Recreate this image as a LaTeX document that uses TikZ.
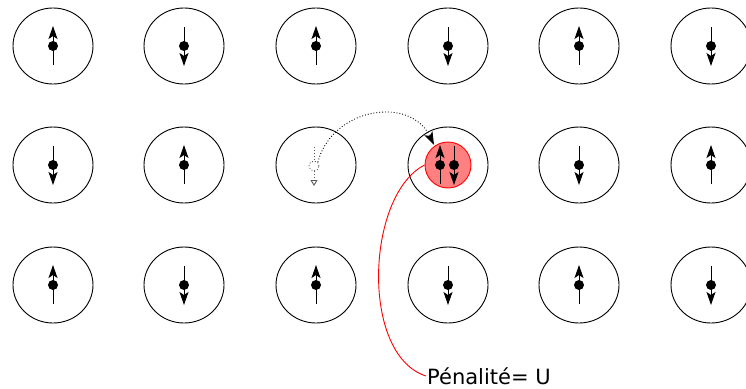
\documentclass[tikz,border=0pt]{standalone}
\usepackage{fontspec}
\setmainfont{DejaVu Sans}
\usetikzlibrary{arrows.meta,shapes.geometric}
\tikzset{
  site/.style={draw,ellipse,minimum width=80pt,minimum height=76pt,line width=0.9pt,inner sep=0pt},
  spinarr/.style={line width=1pt,-{Stealth[length=13pt,width=9pt,inset=3pt]}},
  hop/.style={dotted,line width=0.9pt,-{Stealth[length=13pt,width=9pt,inset=3pt]}},
  ghost/.style={dotted,line width=0.9pt,gray!70!black},
}
\newcommand{\spinup}[1]{\draw[spinarr] ([yshift=-19pt]#1.center) -- ([yshift=20pt]#1.center); \fill (#1.center) circle (5pt);}
\newcommand{\spindown}[1]{\draw[spinarr] ([yshift=19pt]#1.center) -- ([yshift=-20pt]#1.center); \fill (#1.center) circle (5pt);}
\begin{document}
\begin{tikzpicture}[x=1pt,y=-1pt]
\useasboundingbox (0,0) rectangle (746,388);
% sites
\foreach \r/\yy in {1/46,2/165,3/285}{
  \foreach \c/\xx in {1/53,2/184,3/316,4/448,5/579,6/711}{
    \node[site] (s\r\c) at (\xx,\yy) {};
  }
}
% row 1
\spinup{s11}\spindown{s12}\spinup{s13}\spindown{s14}\spinup{s15}\spindown{s16}
% row 2
\spindown{s21}\spinup{s22}\spindown{s25}\spinup{s26}
% row 3
\spinup{s31}\spindown{s32}\spinup{s33}\spindown{s34}\spinup{s35}\spindown{s36}
% doubly occupied site
\node[circle,draw=red,fill=red!50,line width=0.9pt,minimum size=46pt,inner sep=0pt] (dbl) at (s24) {};
\draw[spinarr] ([xshift=-8pt,yshift=-19pt]s24.center) -- ([xshift=-8pt,yshift=20pt]s24.center);
\fill ([xshift=-8pt]s24.center) circle (5pt);
\draw[spinarr] ([xshift=6pt,yshift=19pt]s24.center) -- ([xshift=6pt,yshift=-20pt]s24.center);
\fill ([xshift=6pt]s24.center) circle (5pt);
% empty site (electron moved away)
\node[circle,draw,dotted,gray!70!black,line width=0.9pt,minimum size=10pt,inner sep=0pt] (hole) at ([xshift=-2pt,yshift=-1pt]s23.center) {};
\coordinate (htop) at ([yshift=19pt]hole.center);
\coordinate (hbot) at ([yshift=-20pt]hole.center);
\draw[ghost] (htop) -- (hole.north);
\draw[ghost,-{Triangle[open,length=6pt,width=7pt]}] (hole.south) -- (hbot);
% hopping arrow
\coordinate (hopend) at ([xshift=-14pt,yshift=20pt]s24.center);
\draw[hop] (hole.north east) .. controls (332,108) and (410,95) .. (hopend);
% penalty label
\node[anchor=west,font=\fontsize{21}{24}\selectfont,inner sep=1pt] (pen) at (426,376) {Pénalité= U};
\draw[red,line width=0.9pt] (dbl.west) .. controls (366,195) and (360,355) .. (pen.west);
\end{tikzpicture}
\end{document}
